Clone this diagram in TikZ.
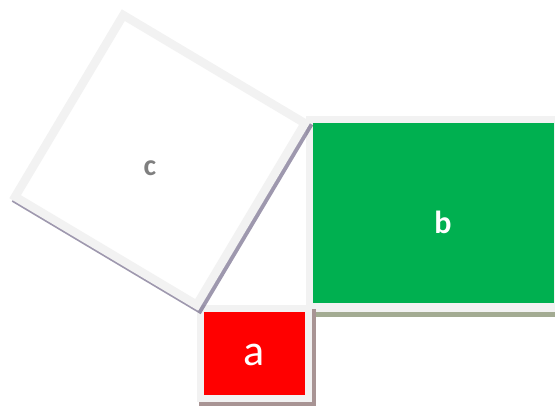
\documentclass[tikz,border=0pt]{standalone}
\usepackage{fontspec}
\setmainfont{Carlito}
\definecolor{frame}{HTML}{F2F2F2}
\definecolor{sqred}{HTML}{FF0000}
\definecolor{sqgreen}{HTML}{00B050}
\definecolor{labelgray}{HTML}{7F7F7F}
\definecolor{shadowa}{HTML}{A89494}
\definecolor{shadowb}{HTML}{A3AB92}
\definecolor{shadowc}{HTML}{3D315D}
\tikzset{
  framebox/.style={fill=frame},
  cshadow/.style={fill=shadowc, draw=shadowc, line width=8.5pt, line join=miter, opacity=0.5},
  cframe/.style={fill=white, draw=frame, line width=8.5pt, line join=miter},
  lbl/.style={inner sep=0pt, text=white}
}
\begin{document}
\begin{tikzpicture}[x=1pt, y=-1pt]
  \useasboundingbox (0,0) rectangle (555,408);

  % square b (green), partly off the right edge
  \fill[shadowb] (308,119) rectangle (565,316.5);
  \fill[framebox] (305.5,115.5) rectangle (562,312);
  \fill[sqgreen] (313,123) rectangle (554,303);
  \node[lbl, font=\bfseries\fontsize{32}{36}\selectfont] (lb) at (443,222) {b};

  % square a (red)
  \fill[shadowa] (199,308.5) rectangle (315.5,406);
  \fill[framebox] (197,305) rectangle (312,402);
  \fill[sqred] (204,312) rectangle (305,395);
  \node[lbl, font=\fontsize{44}{48}\selectfont] (la) at (254.5,355) {a};

  % square c, tilted on the hypotenuse
  \coordinate (cT) at (123.3,15.1);
  \coordinate (cR) at (304.9,123.3);
  \coordinate (cB) at (196.7,304.9);
  \coordinate (cL) at (15.1,196.7);
  \draw[cshadow] ([shift={(2.5,3.5)}]cT) -- ([shift={(2.5,3.5)}]cR)
    -- ([shift={(2.5,3.5)}]cB) -- ([shift={(2.5,3.5)}]cL) -- cycle;
  \draw[cframe] (cT) -- (cR) -- (cB) -- (cL) -- cycle;
  \node[lbl, text=labelgray, font=\bfseries\fontsize{30}{34}\selectfont] (lc) at (150,168) {c};
\end{tikzpicture}
\end{document}
